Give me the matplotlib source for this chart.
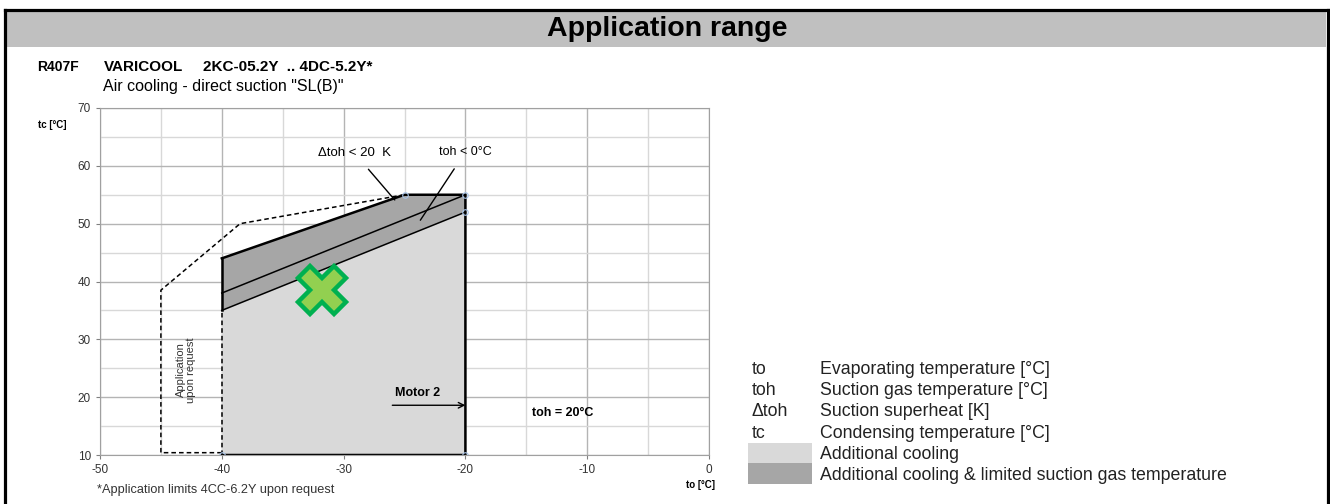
import numpy as np
import matplotlib.pyplot as plt
from matplotlib.patches import Polygon, Rectangle
from matplotlib.lines import Line2D

plt.rcParams['font.family'] = ['Liberation Sans', 'DejaVu Sans']
plt.rcParams['axes.unicode_minus'] = False

# axis setup
x_ticks = [-50, -40, -30, -20, -10, 0]
y_ticks = [10, 20, 30, 40, 50, 60, 70]

# application envelope (to, tc)
light_x = [-40, -20, -20, -40]
light_y = [10, 10, 52, 35]
dark_x = [-40, -20, -20, -25, -40]
dark_y = [35, 52, 55, 55, 44]
outline_x = [-40, -25, -20, -20, -40]
outline_y = [44, 55, 55, 10, 10]
toh_line_x = [-40, -20]
toh_line_y = [38, 55]
sh_line_x = [-40, -20]
sh_line_y = [35, 52]
request_x = [-40, -45, -45, -38.5, -25]
request_y = [10.4, 10.4, 38.5, 50, 55]
handle_x = [-25, -20, -20, -40, -20]
handle_y = [55, 55, 52, 10, 10]
point_x = [-31.8]
point_y = [38.6]

legend_keys = ['to', 'toh', 'Δtoh', 'tc', '', '']
legend_desc = ['Evaporating temperature [°C]', 'Suction gas temperature [°C]',
               'Suction superheat [K]', 'Condensing temperature [°C]',
               'Additional cooling', 'Additional cooling & limited suction gas temperature']

W, H = 1330, 504
fig = plt.figure(figsize=(W / 100, H / 100), dpi=100)


def px(x, y):
    return x / W, 1 - y / H


# frame and header bar
fig.patches.append(Rectangle(px(7, 47), 1319 / W, 36 / H, transform=fig.transFigure,
                             facecolor='#c0c0c0', edgecolor='none'))
for xs, ys in [([5.5, 5.5], [9.5, 504]), ([5.5, 1327.5], [9.5, 9.5]), ([1327.5, 1327.5], [9.5, 504])]:
    fx, fy = zip(*[px(a, b) for a, b in zip(xs, ys)])
    fig.lines.append(Line2D(fx, fy, transform=fig.transFigure, color='black', lw=2.3))
fig.text(*px(667, 29), 'Application range', ha='center', va='center',
         fontsize=20.5, fontweight='bold')
fig.text(*px(37, 67), 'R407F', ha='left', va='center', fontsize=10, fontweight='bold')
fig.text(*px(104, 67), 'VARICOOL', ha='left', va='center', fontsize=11, fontweight='bold')
fig.text(*px(203, 67), '2KC-05.2Y  .. 4DC-5.2Y*', ha='left', va='center', fontsize=11,
         fontweight='bold')
fig.text(*px(103, 87), 'Air cooling - direct suction "SL(B)"', ha='left', va='center', fontsize=11.5)

ax = fig.add_axes([100 / W, 1 - 455 / H, 609 / W, 347 / H])
ax.set_xlim(-50, 0)
ax.set_ylim(10, 70)
ax.set_xticks(x_ticks)
ax.set_yticks(y_ticks)
ax.set_xticks(np.arange(-45, 0, 10), minor=True)
ax.set_yticks(np.arange(15, 70, 10), minor=True)
ax.grid(which='major', color='#b4b4b4', lw=1.0)
ax.grid(which='minor', color='#d8d8d8', lw=1.0)
ax.set_axisbelow(True)
for s in ax.spines.values():
    s.set_color('#a0a0a0')
ax.tick_params(which='major', length=3, color='#808080', labelsize=8.5, labelcolor='#333333')
ax.tick_params(which='minor', length=0)

ax.add_patch(Polygon(list(zip(light_x, light_y)), closed=True, facecolor='#d9d9d9', edgecolor='none'))
ax.add_patch(Polygon(list(zip(dark_x, dark_y)), closed=True, facecolor='#a6a6a6', edgecolor='none'))
ax.plot(toh_line_x, toh_line_y, color='black', lw=1.1)
ax.plot(sh_line_x, sh_line_y, color='black', lw=1.1)
ax.plot(outline_x, outline_y, color='black', lw=1.8, solid_joinstyle='miter')
ax.plot([-40, -40], [35, 44], color='black', lw=1.8)
ax.plot([-40, -40], [10, 35], color='black', lw=1.1, ls=(0, (3, 2)))
ax.plot(request_x, request_y, color='black', lw=1.1, ls=(0, (3, 2)))
ax.plot(handle_x, handle_y, ls='none', marker='o', ms=4, mfc='none', mec='#a8c4e8', mew=0.8)

ax.plot(point_x, point_y, ls='none', marker='X', ms=34, mfc='#92d050', mec='#00b050', mew=3.2)

# annotations
ax.annotate('Δtoh < 20  K', xy=(-25.8, 54.1), xytext=(-29.1, 62.2), ha='center', va='center',
            fontsize=9.5, arrowprops=dict(arrowstyle='-', color='black', lw=1, shrinkA=7, shrinkB=0))
ax.annotate('toh < 0°C', xy=(-23.7, 50.6), xytext=(-20.0, 62.4), ha='center', va='center',
            fontsize=9, arrowprops=dict(arrowstyle='-', color='black', lw=1, shrinkA=7, shrinkB=0))
ax.annotate('', xy=(-20, 18.6), xytext=(-26, 18.6),
            arrowprops=dict(arrowstyle='->', color='black', lw=1, shrinkA=0, shrinkB=0))
ax.text(-23.9, 20.8, 'Motor 2', ha='center', va='center', fontsize=9, fontweight='bold')
ax.text(-12, 17.2, 'toh = 20°C', ha='center', va='center', fontsize=9, fontweight='bold')
ax.text(-42.9, 24.7, 'Application\nupon request', ha='center', va='center', rotation=90,
        fontsize=8, color='#333333', linespacing=1.0)

fig.text(*px(52, 125), 'tc [°C]', ha='center', va='center', fontsize=7, fontweight='bold')
fig.text(*px(700, 485), 'to [°C]', ha='center', va='center', fontsize=7, fontweight='bold')
fig.text(*px(97, 490), '*Application limits 4CC-6.2Y upon request', ha='left', va='center',
         fontsize=9.2, color='#333333')

# legend block, text sits on a common baseline per row
row_y = [368, 389, 410, 432, 453, 474]
for key, desc, y in zip(legend_keys, legend_desc, row_y):
    fig.text(*px(752, y + 6), key, ha='left', va='baseline', fontsize=12.8, color='#222222')
    fig.text(*px(820, y + 6), desc, ha='left', va='baseline', fontsize=12.8, color='#222222')
fig.patches.append(Rectangle(px(748, 463), 64 / W, 20 / H, transform=fig.transFigure,
                             facecolor='#d9d9d9', edgecolor='none'))
fig.patches.append(Rectangle(px(748, 484), 64 / W, 21 / H, transform=fig.transFigure,
                             facecolor='#a6a6a6', edgecolor='none'))

fig.savefig('out.png', dpi=100)
